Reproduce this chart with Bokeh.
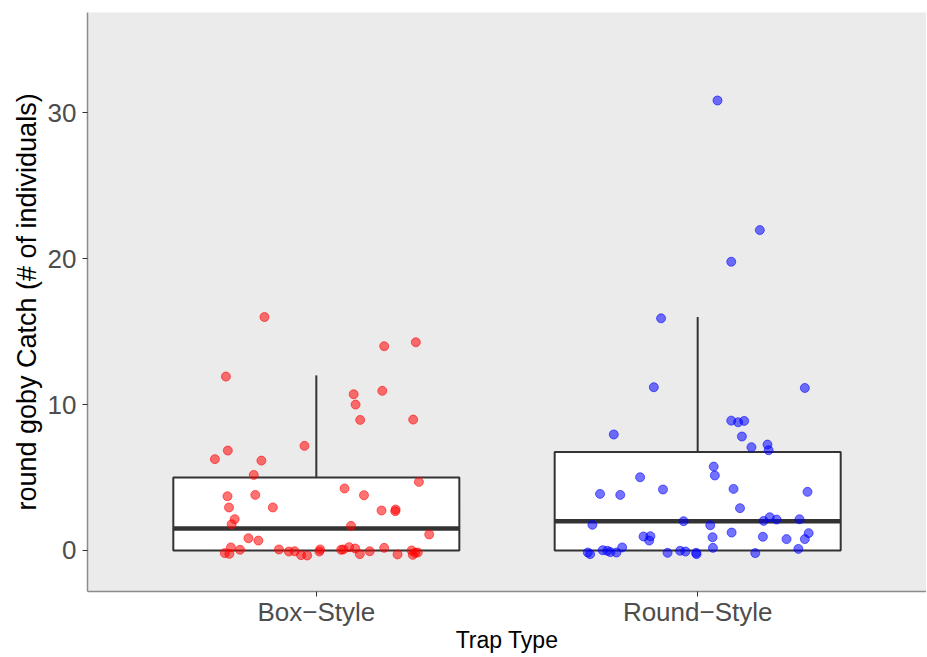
from bokeh.plotting import figure
from bokeh.models import FixedTicker, ColumnDataSource, Range1d
from bokeh.embed import file_html
from bokeh.resources import INLINE

# ---- data ----
categories = ["Box\u2212Style", "Round\u2212Style"]
cat_pos = [1, 2]

# box statistics
q1 = [0.0, 0.0]
median = [1.5, 2.0]
q3 = [5.0, 6.75]
whisker_lo = [0.0, 0.0]
whisker_hi = [12.0, 16.0]

# jittered points: horizontal jitter offset and catch value
box_jitter = [-0.136, 0.178, 0.261, -0.237, 0.173, 0.098, 0.103, 0.115, 0.254, -0.031,
              -0.232, -0.266, -0.144, -0.164, 0.269, 0.074, -0.233, -0.160, 0.125, -0.229,
              -0.114, 0.171, 0.208, 0.207, -0.214, -0.222, 0.091, 0.296, -0.178, -0.152,
              -0.224, -0.200, -0.240, -0.228, -0.098, -0.072, -0.057, -0.040, -0.024, 0.008,
              0.010, 0.065, 0.071, 0.086, 0.102, 0.114, 0.140, 0.178, 0.213, 0.250,
              0.253, 0.259, 0.266]
box_catch = [16.0, 14.0, 14.27, 11.92, 10.94, 10.71, 10.0, 8.95, 8.97, 7.17,
             6.85, 6.26, 6.16, 5.18, 4.70, 4.25, 3.72, 3.81, 3.79, 2.95,
             2.95, 2.74, 2.81, 2.69, 2.15, 1.80, 1.69, 1.10, 0.84, 0.68,
             0.21, 0.05, -0.18, -0.23, 0.07, -0.07, -0.05, -0.32, -0.34, -0.07,
             0.07, 0.05, 0.07, 0.23, 0.14, -0.25, -0.05, 0.18, -0.27, 0.0,
             -0.30, -0.16, -0.14]

round_jitter = [0.052, 0.163, 0.088, -0.096, -0.115, 0.281, -0.220, 0.088, 0.106, 0.122,
                0.116, 0.141, 0.183, 0.186, 0.042, 0.045, -0.151, -0.091, 0.094, 0.288,
                -0.256, -0.203, 0.111, 0.189, 0.173, 0.207, 0.267, -0.037, -0.276, 0.033,
                0.089, 0.291, -0.142, -0.124, -0.127, 0.039, 0.171, 0.233, 0.281, -0.198,
                -0.249, -0.237, -0.229, -0.213, -0.288, -0.282, -0.079, -0.046, -0.032, -0.004,
                -0.003, 0.040, 0.151, 0.264]
round_catch = [30.84, 21.96, 19.79, 15.91, 11.19, 11.14, 7.95, 8.90, 8.79, 8.88,
               7.81, 7.08, 7.26, 6.87, 5.75, 5.14, 5.02, 4.18, 4.22, 4.02,
               3.88, 3.81, 2.90, 2.28, 2.03, 2.12, 2.14, 2.01, 1.76, 1.73,
               1.23, 1.19, 0.96, 0.98, 0.68, 0.91, 0.94, 0.78, 0.78, 0.21,
               0.02, -0.02, -0.11, -0.14, -0.14, -0.25, -0.16, -0.02, -0.07, -0.16,
               -0.25, 0.18, -0.18, 0.11]

box_width = 0.75
FONT = "Liberation Sans"

p = figure(output_backend="svg", toolbar_location=None,
           frame_width=839, frame_height=579,
           min_border_left=87, min_border_right=0, min_border_top=12, min_border_bottom=64,
           x_range=Range1d(0.4, 2.6), y_range=Range1d(-2.81, 36.87))

p.background_fill_color = "#EBEBEB"
p.border_fill_color = "white"
p.outline_line_color = None
p.xgrid.grid_line_color = None
p.ygrid.grid_line_color = None

# boxes
box_src = ColumnDataSource(dict(
    left=[c - box_width / 2 for c in cat_pos],
    right=[c + box_width / 2 for c in cat_pos],
    x=cat_pos, q1=q1, q3=q3, med=median, lo=whisker_lo, hi=whisker_hi))
p.segment(x0="x", x1="x", y0="q3", y1="hi", source=box_src,
          line_color="#333333", line_width=2)
p.segment(x0="x", x1="x", y0="lo", y1="q1", source=box_src,
          line_color="#333333", line_width=2)
p.quad(left="left", right="right", bottom="q1", top="q3", source=box_src,
       fill_color="white", line_color="#333333", line_width=2)
p.segment(x0="left", x1="right", y0="med", y1="med", source=box_src,
          line_color="#333333", line_width=4.5)

# points
p.scatter(x=[cat_pos[0] + j for j in box_jitter], y=box_catch, size=9,
          fill_color="#FF0000", fill_alpha=0.55, line_color="#FF0000", line_alpha=0.55)
p.scatter(x=[cat_pos[1] + j for j in round_jitter], y=round_catch, size=9,
          fill_color="#0000FF", fill_alpha=0.55, line_color="#0000FF", line_alpha=0.55)

# axes
p.xaxis.ticker = FixedTicker(ticks=cat_pos)
p.xaxis.major_label_overrides = {c: n for c, n in zip(cat_pos, categories)}
p.yaxis.ticker = FixedTicker(ticks=[0, 10, 20, 30])
p.xaxis.axis_label = "Trap Type"
p.yaxis.axis_label = "round goby Catch (# of individuals)"

for ax in (p.xaxis[0], p.yaxis[0]):
    ax.axis_line_color = "#8C8C8C"
    ax.axis_line_width = 1.5
    ax.major_tick_line_color = "#333333"
    ax.major_tick_line_width = 1
    ax.major_tick_out = 5
    ax.major_tick_in = 0
    ax.minor_tick_line_color = None
    ax.major_label_text_font = FONT
    ax.major_label_text_font_size = "26px"
    ax.major_label_text_color = "#4D4D4D"
    ax.axis_label_text_font = FONT
    ax.axis_label_text_font_style = "normal"
    ax.axis_label_text_color = "black"

p.xaxis.axis_label_text_font_size = "23px"
p.yaxis.axis_label_text_font_size = "27px"
p.xaxis.major_label_standoff = 0
p.xaxis.axis_label_standoff = -3
p.yaxis.major_label_standoff = 6
p.yaxis.axis_label_standoff = 3

open("out.html", "w").write(file_html(p, INLINE))
